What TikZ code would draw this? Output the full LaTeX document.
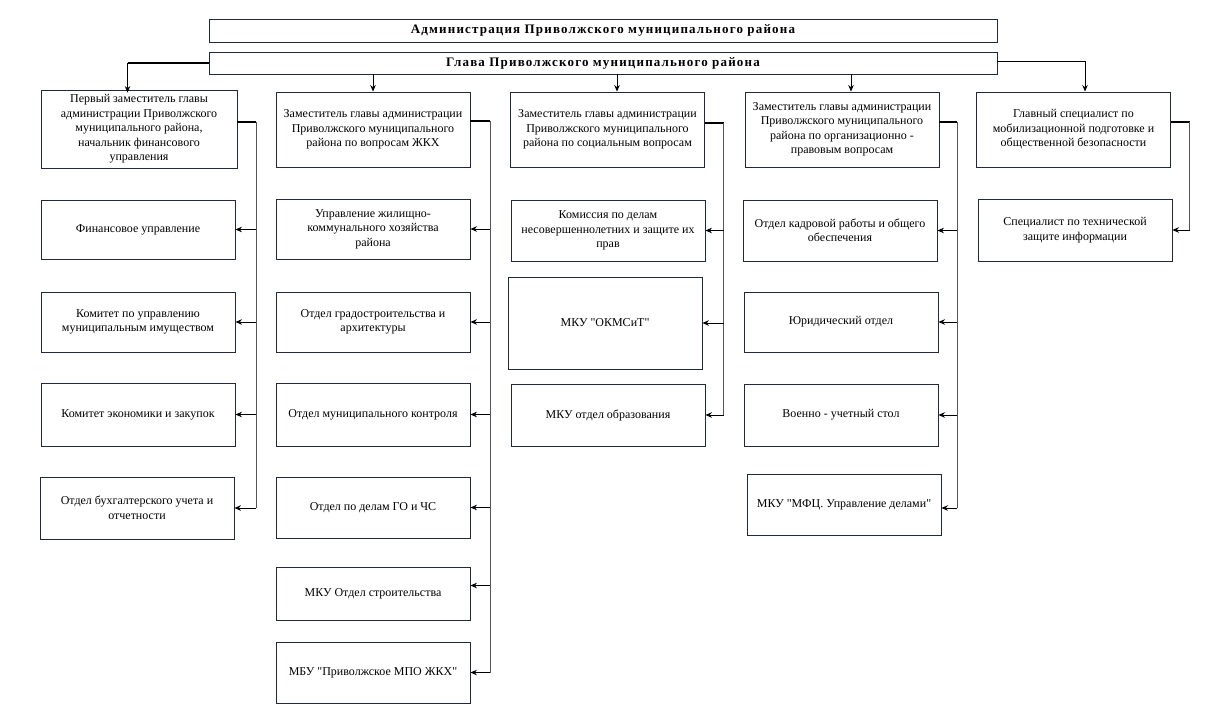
\documentclass[tikz,border=0pt]{standalone}
\usepackage{fontspec}
\setmainfont{Liberation Serif}[Ligatures=TeXOff]
\newfontfamily\headfont{Liberation Serif}[LetterSpace=9, Ligatures=TeXOff]
\usetikzlibrary{arrows.meta}
\definecolor{boxline}{RGB}{35,40,60}
\definecolor{busline}{RGB}{85,85,85}
\tikzset{
  unit/.style = {draw=boxline, line width=0.9pt, align=center, inner sep=2pt,
    minimum width=194pt, minimum height=60pt, font=\fontsize{12}{14.5}\selectfont},
  deputy/.style = {unit, minimum height=75pt},
  head/.style = {draw=boxline, line width=0.9pt, minimum width=788pt, minimum height=23pt,
    font=\headfont\bfseries\fontsize{13}{15}\selectfont},
  link/.style = {-{Stealth[length=6.5pt,width=5.5pt]}, line width=0.9pt},
  stub/.style = {line width=2pt},
  bus/.style = {line width=1pt, draw=busline}
}
\begin{document}
\begin{tikzpicture}[x=1pt, y=-1pt]
\useasboundingbox (0,0) rectangle (1225,722);
\fill[white] (0,0) rectangle (1225,722);

% top
\node[head] (adm) at (603,30.5) {Администрация Приволжского муниципального района};
\node[head, minimum height=22pt] (glava) at (603,63) {Глава Приволжского муниципального района};

% deputies
\node[deputy, minimum width=196pt, minimum height=78pt] (d1) at (139,129) {Первый заместитель главы\\администрации Приволжского\\муниципального района,\\начальник финансового\\управления};
\node[deputy] (d2) at (373,129.5) {Заместитель главы администрации\\Приволжского муниципального\\района по вопросам ЖКХ};
\node[deputy] (d3) at (607.5,129.5) {Заместитель главы администрации\\Приволжского муниципального\\района по социальным вопросам};
\node[deputy] (d4) at (842,129.5) {Заместитель главы администрации\\Приволжского муниципального\\района по организационно -\\правовым вопросам};
\node[deputy] (d5) at (1073.5,129.5) {Главный специалист по\\мобилизационной подготовке и\\общественной безопасности};

% column 1
\node[unit, minimum height=59pt] (f1) at (138,229.5) {Финансовое управление};
\node[unit] (f2) at (138,322) {Комитет по управлению\\муниципальным имуществом};
\node[unit, minimum height=63pt] (f3) at (138,414.5) {Комитет экономики и закупок};
\node[unit, minimum height=62pt] (f4) at (137,508) {Отдел бухгалтерского учета и\\отчетности};

% column 2
\node[unit] (z1) at (373,229) {Управление жилищно-\\коммунального хозяйства\\района};
\node[unit] (z2) at (373,322) {Отдел градостроительства и\\архитектуры};
\node[unit, minimum height=63pt] (z3) at (373,414.5) {Отдел муниципального контроля};
\node[unit, minimum height=61pt] (z4) at (373,507.5) {Отдел по делам ГО и ЧС};
\node[unit, minimum height=53pt] (z5) at (373,593.5) {МКУ Отдел строительства};
\node[unit, minimum height=61pt] (z6) at (373,672.5) {МБУ "Приволжское МПО ЖКХ"};

% column 3
\node[unit, minimum height=61pt] (s1) at (608,230.5) {Комиссия по делам\\несовершеннолетних и защите их\\прав};
\node[unit, minimum height=92pt] (s2) at (605,323) {МКУ "ОКМСиТ"};
\node[unit, minimum height=62pt] (s3) at (608,415) {МКУ отдел образования};

% column 4
\node[unit, minimum height=61pt] (o1) at (840,230.5) {Отдел кадровой работы и общего\\обеспечения};
\node[unit] (o2) at (841,322) {Юридический отдел};
\node[unit, minimum height=62pt] (o3) at (841,415) {Военно - учетный стол};
\node[unit, minimum height=61pt] (o4) at (844,504.5) {МКУ "МФЦ. Управление делами"};

% column 5
\node[unit, minimum height=62pt] (t1) at (1075,230) {Специалист по технической\\защите информации};

% glava to deputies
\draw[stub] (glava.west) -- ++(-81,0) coordinate (gl);
\draw[link] (gl) -- ([yshift=-3pt]gl |- d1.north);
\draw[link] (d2.north |- glava.south) -- (d2.north);
\draw[link] ([xshift=9.5pt]d3.north |- glava.south) -- ([xshift=9.5pt]d3.north);
\draw[link] ([xshift=9pt]d4.north |- glava.south) -- ([xshift=9pt]d4.north);
\draw[link] ([yshift=2pt]glava.east) -| ([xshift=11.5pt]d5.north);

% buses
\draw[stub] ([yshift=7pt]d1.east) -- ++(19,0) coordinate (b1);
\draw[bus] (b1) -- (b1 |- f4.east);
\foreach \n in {f1,f2,f3,f4}
  \draw[link] (b1 |- \n.east) -- (\n.east);

\draw[stub] ([yshift=8pt]d2.east) -- ++(20,0) coordinate (b2);
\draw[bus] (b2) -- (b2 |- z6.east);
\foreach \n in {z1,z2,z3,z4,z6}
  \draw[link] (b2 |- \n.east) -- (\n.east);
\draw[link] ([yshift=8pt]b2 |- z5.east) -- ([yshift=8pt]z5.east);

\draw[stub] ([yshift=6.5pt]d3.east) -- ++(19,0) coordinate (b3);
\draw[bus] (b3) -- (b3 |- s3.east);
\foreach \n in {s1,s2,s3}
  \draw[link] (b3 |- \n.east) -- (\n.east);

\draw[stub] ([yshift=7.5pt]d4.east) -- ++(18,0) coordinate (b4);
\draw[bus] (b4) -- ([yshift=-3.5pt]b4 |- o4.east);
\foreach \n in {o1,o2,o3}
  \draw[link] (b4 |- \n.east) -- (\n.east);
\draw[link] ([yshift=-3.5pt]b4 |- o4.east) -- ([yshift=-3.5pt]o4.east);

\draw[stub] ([yshift=7.5pt]d5.east) -- ++(19,0) coordinate (b5);
\draw[bus] (b5) -- (b5 |- t1.east);
\draw[link] (b5 |- t1.east) -- (t1.east);
\end{tikzpicture}
\end{document}
